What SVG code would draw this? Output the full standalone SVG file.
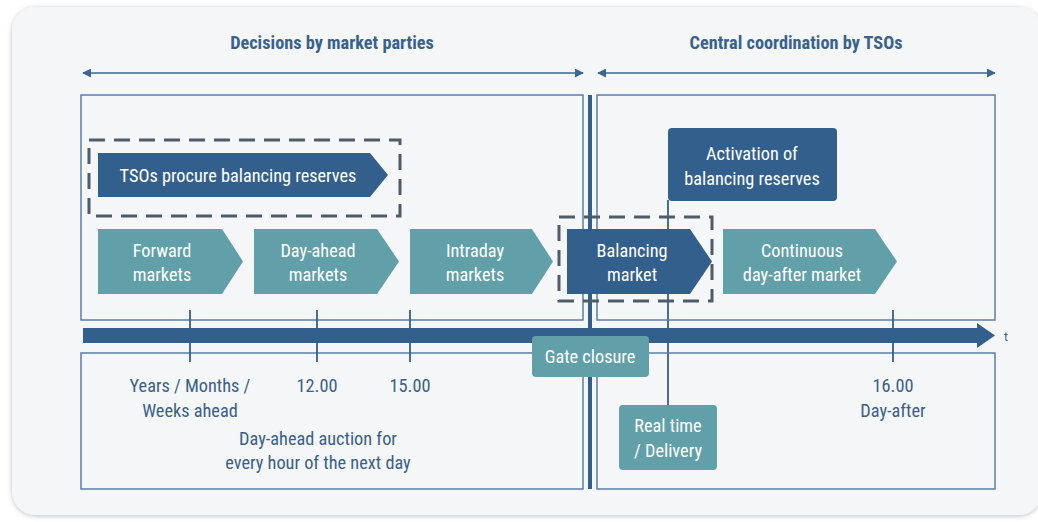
<svg xmlns="http://www.w3.org/2000/svg" width="1038" height="522" viewBox="0 0 1038 522">
<defs>
<filter id="sh" x="-5%" y="-5%" width="110%" height="110%"><feDropShadow dx="0" dy="1" stdDeviation="2.5" flood-color="#000" flood-opacity="0.25"/></filter>
<marker id="ah" viewBox="0 0 10 10" refX="9" refY="5" markerWidth="9" markerHeight="9" markerUnits="userSpaceOnUse" orient="auto-start-reverse"><path d="M0,0 L10,5 L0,10 z" fill="#3b6690"/></marker>
<style>
.hd{font-family:"Roboto Condensed","Liberation Sans Narrow","DejaVu Sans Condensed",Roboto,sans-serif;font-weight:bold;font-size:18.3px;fill:#38628c;text-anchor:middle}
.w{font-family:"Roboto Condensed","Liberation Sans Narrow","DejaVu Sans Condensed",Roboto,sans-serif;font-size:18.3px;fill:#fff;text-anchor:middle}
.lb{font-family:"Roboto Condensed","Liberation Sans Narrow","DejaVu Sans Condensed",Roboto,sans-serif;font-size:18.3px;fill:#3a5f88;text-anchor:middle}
.box{fill:none;stroke:#5a7fa6;stroke-width:1.5}
.dk{fill:#335f8d}
.tl{fill:#62a0a9}
.dash{fill:none;stroke:#4e5b68;stroke-width:3;stroke-dasharray:16 9}
.tick{stroke:#335f8d;stroke-width:1.8}
</style>
</defs>
<rect x="0" y="0" width="1038" height="522" fill="#ffffff"/>
<rect x="12" y="7" width="1030" height="508" rx="24" fill="#f5f6f8" filter="url(#sh)"/>

<g id="headers">
<text class="hd" x="332" y="49">Decisions by market parties</text>
<text class="hd" x="796" y="49">Central coordination by TSOs</text>
</g>

<g id="connectors">
<line x1="83" y1="73" x2="583" y2="73" stroke="#3b6690" stroke-width="1.5" marker-start="url(#ah)" marker-end="url(#ah)"/>
<line x1="598" y1="73" x2="995" y2="73" stroke="#3b6690" stroke-width="1.5" marker-start="url(#ah)" marker-end="url(#ah)"/>
<line x1="668" y1="200" x2="668" y2="406" stroke="#335f8d" stroke-width="1.8"/>
</g>

<g id="frames">
<rect class="box" x="81" y="95" width="502" height="225"/>
<rect class="box" x="597" y="95" width="398" height="225"/>
<rect class="box" x="81" y="353" width="502" height="136"/>
<rect class="box" x="597" y="353" width="398" height="136"/>
<line x1="590" y1="95" x2="590" y2="489" stroke="#335f8d" stroke-width="4"/>
</g>

<g id="timeline">
<path class="dk" d="M83,328 H977 V323 L995,335.5 L977,348 V343 H83 Z"/>
<line class="tick" x1="190" y1="310" x2="190" y2="362"/>
<line class="tick" x1="317" y1="310" x2="317" y2="362"/>
<line class="tick" x1="410" y1="310" x2="410" y2="362"/>
<line class="tick" x1="893" y1="310" x2="893" y2="362"/>
<text x="1004" y="341" font-family="Roboto,sans-serif" font-size="12" fill="#3a5f88">t</text>
</g>

<g id="tso-procure">
<rect class="dash" x="89" y="140" width="311" height="76"/>
<path class="dk" d="M98,153 H370 L388,175 L370,197 H98 Z"/>
<text class="w" x="238" y="182">TSOs procure balancing reserves</text>
</g>

<g id="forward">
<path class="tl" d="M98,229 H222 L243,261.5 L222,294 H98 Z"/>
<text class="w" x="162" y="257">Forward</text>
<text class="w" x="162" y="281">markets</text>
</g>
<g id="dayahead">
<path class="tl" d="M254,229 H377 L399,261.5 L377,294 H254 Z"/>
<text class="w" x="318" y="257">Day-ahead</text>
<text class="w" x="318" y="281">markets</text>
</g>
<g id="intraday">
<path class="tl" d="M410,229 H532 L553,261.5 L532,294 H410 Z"/>
<text class="w" x="475" y="257">Intraday</text>
<text class="w" x="475" y="281">markets</text>
</g>
<g id="balancing">
<path class="dk" d="M567,229 H690 L712,261.5 L690,294 H567 Z"/>
<rect class="dash" x="559" y="217" width="153" height="84"/>
<text class="w" x="632" y="257">Balancing</text>
<text class="w" x="632" y="281">market</text>
</g>
<g id="continuous">
<path class="tl" d="M723,229 H875 L897,261.5 L875,294 H723 Z"/>
<text class="w" x="802" y="257">Continuous</text>
<text class="w" x="802" y="281">day-after market</text>
</g>
<g id="activation">
<rect class="dk" x="668" y="128" width="169" height="73" rx="4"/>
<text class="w" x="752" y="160">Activation of</text>
<text class="w" x="752" y="185">balancing reserves</text>
</g>
<g id="gate">
<rect class="tl" x="532" y="336" width="117" height="41" rx="4"/>
<text class="w" x="590" y="363">Gate closure</text>
</g>
<g id="realtime">
<rect class="tl" x="619" y="405" width="98" height="65" rx="4"/>
<text class="w" x="668" y="432">Real time</text>
<text class="w" x="668" y="457">/ Delivery</text>
</g>

<g id="labels">
<text class="lb" x="190" y="392">Years / Months /</text>
<text class="lb" x="190" y="417">Weeks ahead</text>
<text class="lb" x="317" y="392">12.00</text>
<text class="lb" x="410" y="392">15.00</text>
<text class="lb" x="318" y="445">Day-ahead auction for</text>
<text class="lb" x="318" y="469">every hour of the next day</text>
<text class="lb" x="893" y="392">16.00</text>
<text class="lb" x="893" y="417">Day-after</text>
</g>
</svg>
